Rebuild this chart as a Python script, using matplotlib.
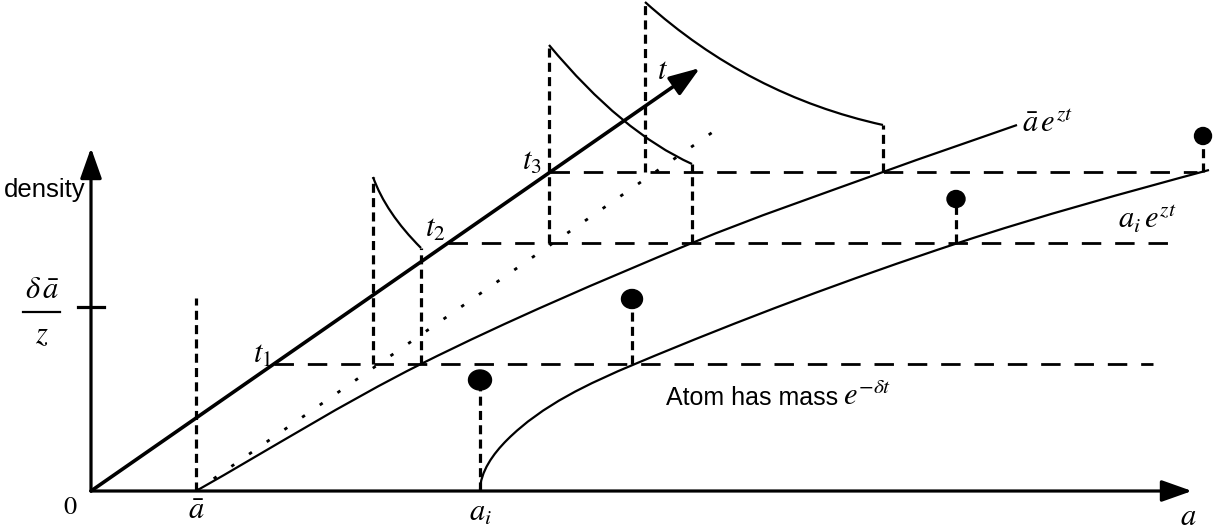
import numpy as np
import matplotlib
matplotlib.use('Agg')
from matplotlib import pyplot as plt
from matplotlib.path import Path
from matplotlib.patches import PathPatch, Ellipse

plt.rcParams['font.family'] = ['Liberation Sans', 'DejaVu Sans']
plt.rcParams['mathtext.fontset'] = 'stix'
plt.rcParams['lines.scale_dashes'] = False

# the sketch is drawn in picture units (x to the right, y downward)
origin = (91, 491)
x_axis_tip = 1192
y_axis_tip = 148
t_axis_tip = (700, 68)
tick_y = 307

abar_x = 196
ai_x = 480

# time levels t1, t2, t3 and where the dashed levels end on the right
t_levels = [364, 243, 172]
t_level_end = [1153, 1180, 1197]
t_names = ['$t_1$', '$t_2$', '$t_3$']

# curve abar*e^{zt}
abar_cx = [196, 421, 692, 883, 1017]
abar_cy = [491, 364, 243, 172, 125]
# curve a_i*e^{zt} (points and the direction of the curve there, as (dx, dy))
ai_cx = [480, 507, 635, 958, 1209]
ai_cy = [491, 440, 364, 243, 170]
ai_dir = [(0, -1), (1, -1.0), (1, -0.42), (1, -0.33), (1, -0.27)]

# density slices at t1, t2, t3
slice_x0 = [373, 549, 645]
slice_top = [177, 45, 2]
slice_x1 = [421, 692, 883]
slice_end = [248, 164, 125]
slice_s0 = [2.8, 1.2, 0.9]
slice_s1 = [1.0, 0.45, 0.22]

# atoms (centre, stem foot, size)
atom_x = [480, 632, 956, 1203]
atom_y = [380, 299, 199, 136]
atom_base = [491, 364, 243, 172]
atom_w = [23, 21, 18, 17]
atom_h = [20, 19, 17, 17]

fig = plt.figure(figsize=(12.23, 5.30), dpi=100)
ax = fig.add_axes([0, 0, 1, 1])
ax.set_xlim(0, 1223)
ax.set_ylim(530, 0)
ax.axis('off')

k = 'black'
hdash = (0, (14, 10))
vdash = (0, (6.5, 3.8))

def smooth(xs, ys, dirs=None):
    # bezier pieces; tangents given or taken from neighbouring points
    p = np.column_stack([xs, ys]).astype(float)
    n = len(p)
    tang = []
    for i in range(n):
        if dirs is not None:
            d = np.array(dirs[i], float)
        else:
            d = p[min(i + 1, n - 1)] - p[max(i - 1, 0)]
        tang.append(d / np.hypot(*d))
    verts = [p[0]]
    codes = [Path.MOVETO]
    for i in range(n - 1):
        L = np.hypot(*(p[i + 1] - p[i]))
        verts += [p[i] + tang[i] * L / 3, p[i + 1] - tang[i + 1] * L / 3, p[i + 1]]
        codes += [Path.CURVE4] * 3
    return Path(verts, codes)

arrow = dict(arrowstyle='-|>,head_length=0.62,head_width=0.22', color=k,
             lw=2.3, mutation_scale=30, shrinkA=0, shrinkB=0)

# axes
ax.annotate('', xy=(x_axis_tip, origin[1]), xytext=origin, arrowprops=arrow)
ax.annotate('', xy=(origin[0], y_axis_tip), xytext=origin, arrowprops=arrow)
ax.annotate('', xy=t_axis_tip, xytext=origin, arrowprops=dict(arrow, lw=2.6))
ax.plot([78, 104], [tick_y, tick_y], color=k, lw=2.3)

# dotted copy of the t axis starting at abar
slope = (t_axis_tip[1] - origin[1]) / (t_axis_tip[0] - origin[0])
ax.plot([abar_x, 718], [origin[1], origin[1] + slope * (718 - abar_x)],
        color=k, lw=2, linestyle=(0, (2.5, 13)))

# dashed time levels
for y, xe in zip(t_levels, t_level_end):
    xs = origin[0] + (y - origin[1]) / slope
    ax.plot([xs, xe], [y, y], color=k, lw=2, linestyle=hdash)

# vertical at abar
ax.plot([abar_x, abar_x], [origin[1], 298], color=k, lw=2.3, linestyle=vdash)

# growth curves
ax.add_patch(PathPatch(smooth(abar_cx, abar_cy), fill=False, lw=1.6, color=k))
ax.add_patch(PathPatch(smooth(ai_cx, ai_cy, ai_dir), fill=False, lw=1.6, color=k))

# density slices
for x0, yt, x1, ye, s0, s1, yl in zip(slice_x0, slice_top, slice_x1, slice_end,
                                      slice_s0, slice_s1, t_levels):
    cx = (ye - yt + s0 * x0 - s1 * x1) / (s0 - s1)
    cy = yt + s0 * (cx - x0)
    ax.add_patch(PathPatch(Path([(x0, yt), (cx, cy), (x1, ye)],
                                [Path.MOVETO, Path.CURVE3, Path.CURVE3]),
                           fill=False, lw=1.6, color=k))
    ax.plot([x0, x0], [yl, yt], color=k, lw=2.3, linestyle=vdash)
    ax.plot([x1, x1], [yl, ye], color=k, lw=2.3, linestyle=vdash)

# atoms
for x, y, yb, w, h in zip(atom_x, atom_y, atom_base, atom_w, atom_h):
    ax.plot([x, x], [yb, y], color=k, lw=2.3, linestyle=vdash)
    ax.add_patch(Ellipse((x, y), w, h, color=k))

# labels
ms = 22
ax.text(45, 190, 'density', fontsize=18.5, ha='center', va='center')
ax.text(42, 290, r'$\delta\,\bar{a}$', fontsize=ms, ha='center', va='center')
ax.plot([23, 60], [312, 312], color=k, lw=1.6)
ax.text(42, 335, '$z$', fontsize=ms, ha='center', va='center')
ax.text(70, 507, '$0$', fontsize=19, ha='center', va='center')
ax.text(abar_x, 511, r'$\bar{a}$', fontsize=ms, ha='center', va='center')
ax.text(ai_x, 513, '$a_i$', fontsize=ms, ha='center', va='center')
ax.text(1188, 517, '$a$', fontsize=ms, ha='center', va='center')
ax.text(663, 71, '$t$', fontsize=ms, ha='center', va='center')
t_lab_x = [262, 435, 532]
t_lab_y = [355, 229, 162]
for x, y, s in zip(t_lab_x, t_lab_y, t_names):
    ax.text(x, y, s, fontsize=ms, ha='center', va='center')
ax.text(1022, 124, r'$\bar{a}\,e^{zt}$', fontsize=ms, ha='left', va='center')
ax.text(1118, 219, r'$a_i\,e^{zt}$', fontsize=ms, ha='left', va='center')
ax.text(666, 405, 'Atom has mass', fontsize=18, ha='left', va='baseline')
ax.text(843, 405, r'$e^{-\delta t}$', fontsize=ms, ha='left', va='baseline')

fig.savefig('out.png', dpi=100)
